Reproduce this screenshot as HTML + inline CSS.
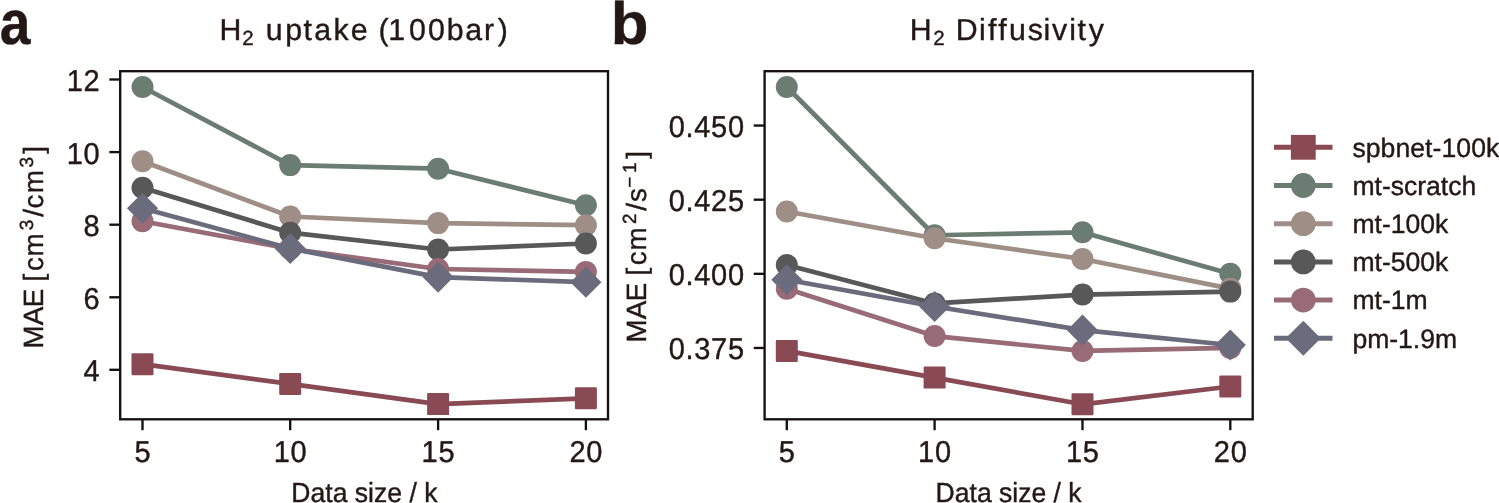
<!DOCTYPE html>
<html lang="en">
<head>
<meta charset="utf-8">
<title>MAE vs data size</title>
<style>
html,body{margin:0;padding:0;background:#fff;}
body{width:1499px;height:503px;overflow:hidden;font-family:"Liberation Sans", sans-serif;}
svg{display:block;}
</style>
</head>
<body>
<svg width="1499" height="503" viewBox="0 0 1499 503" font-family='"Liberation Sans", sans-serif' fill="#231815" text-rendering="geometricPrecision">
<style>text{stroke:#231815;stroke-width:0.4px;stroke-linejoin:round}</style>
<rect width="1499" height="503" fill="#ffffff"/>
<polyline points="142.5,364.2 290.2,383.9 438.1,404.1 585.9,398.3" fill="none" stroke="#8a4a54" stroke-width="4.7" stroke-linejoin="round"/>
<rect x="131.5" y="353.2" width="22" height="22" rx="1.2" fill="#8a4a54"/>
<rect x="279.2" y="372.9" width="22" height="22" rx="1.2" fill="#8a4a54"/>
<rect x="427.1" y="393.1" width="22" height="22" rx="1.2" fill="#8a4a54"/>
<rect x="574.9" y="387.3" width="22" height="22" rx="1.2" fill="#8a4a54"/>
<polyline points="142.5,87 290.2,165.1 438.1,168.7 585.9,205.3" fill="none" stroke="#6b7d73" stroke-width="4.7" stroke-linejoin="round"/>
<circle cx="142.5" cy="87" r="11" fill="#6b7d73"/>
<circle cx="290.2" cy="165.1" r="11" fill="#6b7d73"/>
<circle cx="438.1" cy="168.7" r="11" fill="#6b7d73"/>
<circle cx="585.9" cy="205.3" r="11" fill="#6b7d73"/>
<polyline points="142.5,161.2 290.2,216.5 438.1,223.1 585.9,225.2" fill="none" stroke="#9e8e86" stroke-width="4.7" stroke-linejoin="round"/>
<circle cx="142.5" cy="161.2" r="11" fill="#9e8e86"/>
<circle cx="290.2" cy="216.5" r="11" fill="#9e8e86"/>
<circle cx="438.1" cy="223.1" r="11" fill="#9e8e86"/>
<circle cx="585.9" cy="225.2" r="11" fill="#9e8e86"/>
<polyline points="142.5,187.7 290.2,232.7 438.1,249.5 585.9,243.5" fill="none" stroke="#585858" stroke-width="4.7" stroke-linejoin="round"/>
<circle cx="142.5" cy="187.7" r="11" fill="#585858"/>
<circle cx="290.2" cy="232.7" r="11" fill="#585858"/>
<circle cx="438.1" cy="249.5" r="11" fill="#585858"/>
<circle cx="585.9" cy="243.5" r="11" fill="#585858"/>
<polyline points="142.5,221.2 290.2,248.8 438.1,269 585.9,271.9" fill="none" stroke="#986b76" stroke-width="4.7" stroke-linejoin="round"/>
<circle cx="142.5" cy="221.2" r="11" fill="#986b76"/>
<circle cx="290.2" cy="248.8" r="11" fill="#986b76"/>
<circle cx="438.1" cy="269" r="11" fill="#986b76"/>
<circle cx="585.9" cy="271.9" r="11" fill="#986b76"/>
<polyline points="142.5,208.2 290.2,248.5 438.1,277.1 585.9,282.2" fill="none" stroke="#6a6c7d" stroke-width="4.7" stroke-linejoin="round"/>
<path d="M142.5 192.64L158.06 208.2L142.5 223.76L126.94 208.2Z" fill="#6a6c7d"/>
<path d="M290.2 232.94L305.76 248.5L290.2 264.06L274.64 248.5Z" fill="#6a6c7d"/>
<path d="M438.1 261.54L453.66 277.1L438.1 292.66L422.54 277.1Z" fill="#6a6c7d"/>
<path d="M585.9 266.64L601.46 282.2L585.9 297.76L570.34 282.2Z" fill="#6a6c7d"/>
<rect x="120.2" y="71.2" width="487.8" height="348.1" fill="none" stroke="#151111" stroke-width="2.35"/>
<line x1="142.5" y1="419.3" x2="142.5" y2="430.18" stroke="#151111" stroke-width="2.35"/>
<text transform="translate(142.85 462) scale(1 1.04)" font-size="29.0" text-anchor="middle" letter-spacing="0.7">5</text>
<line x1="290.2" y1="419.3" x2="290.2" y2="430.18" stroke="#151111" stroke-width="2.35"/>
<text transform="translate(290.55 462) scale(1 1.04)" font-size="29.0" text-anchor="middle" letter-spacing="0.7">10</text>
<line x1="438.1" y1="419.3" x2="438.1" y2="430.18" stroke="#151111" stroke-width="2.35"/>
<text transform="translate(438.45 462) scale(1 1.04)" font-size="29.0" text-anchor="middle" letter-spacing="0.7">15</text>
<line x1="585.9" y1="419.3" x2="585.9" y2="430.18" stroke="#151111" stroke-width="2.35"/>
<text transform="translate(586.25 462) scale(1 1.04)" font-size="29.0" text-anchor="middle" letter-spacing="0.7">20</text>
<line x1="109.33" y1="79.5" x2="120.2" y2="79.5" stroke="#151111" stroke-width="2.35"/>
<text transform="translate(100.33 91) scale(1 1.04)" font-size="29.0" text-anchor="end" letter-spacing="0.7">12</text>
<line x1="109.33" y1="152.1" x2="120.2" y2="152.1" stroke="#151111" stroke-width="2.35"/>
<text transform="translate(100.33 164) scale(1 1.04)" font-size="29.0" text-anchor="end" letter-spacing="0.7">10</text>
<line x1="109.33" y1="224.7" x2="120.2" y2="224.7" stroke="#151111" stroke-width="2.35"/>
<text transform="translate(100.33 236) scale(1 1.04)" font-size="29.0" text-anchor="end" letter-spacing="0.7">8</text>
<line x1="109.33" y1="297.3" x2="120.2" y2="297.3" stroke="#151111" stroke-width="2.35"/>
<text transform="translate(100.33 309) scale(1 1.04)" font-size="29.0" text-anchor="end" letter-spacing="0.7">6</text>
<line x1="109.33" y1="369.8" x2="120.2" y2="369.8" stroke="#151111" stroke-width="2.35"/>
<text transform="translate(100.33 381) scale(1 1.04)" font-size="29.0" text-anchor="end" letter-spacing="0.7">4</text>
<text transform="translate(364.4 502) scale(1 1.04)" font-size="26.55" text-anchor="middle">Data size / k</text>
<polyline points="786.8,350.92 934.6,377.61 1082.5,404.3 1230.3,386.51" fill="none" stroke="#8a4a54" stroke-width="4.7" stroke-linejoin="round"/>
<rect x="775.8" y="339.92" width="22" height="22" rx="1.2" fill="#8a4a54"/>
<rect x="923.6" y="366.61" width="22" height="22" rx="1.2" fill="#8a4a54"/>
<rect x="1071.5" y="393.3" width="22" height="22" rx="1.2" fill="#8a4a54"/>
<rect x="1219.3" y="375.51" width="22" height="22" rx="1.2" fill="#8a4a54"/>
<polyline points="786.8,87 934.6,235.27 1082.5,232.3 1230.3,273.82" fill="none" stroke="#6b7d73" stroke-width="4.7" stroke-linejoin="round"/>
<circle cx="786.8" cy="87" r="11" fill="#6b7d73"/>
<circle cx="934.6" cy="235.27" r="11" fill="#6b7d73"/>
<circle cx="1082.5" cy="232.3" r="11" fill="#6b7d73"/>
<circle cx="1230.3" cy="273.82" r="11" fill="#6b7d73"/>
<polyline points="786.8,211.55 934.6,238.24 1082.5,258.99 1230.3,288.65" fill="none" stroke="#9e8e86" stroke-width="4.7" stroke-linejoin="round"/>
<circle cx="786.8" cy="211.55" r="11" fill="#9e8e86"/>
<circle cx="934.6" cy="238.24" r="11" fill="#9e8e86"/>
<circle cx="1082.5" cy="258.99" r="11" fill="#9e8e86"/>
<circle cx="1230.3" cy="288.65" r="11" fill="#9e8e86"/>
<polyline points="786.8,264.92 934.6,303.47 1082.5,294.58 1230.3,291.61" fill="none" stroke="#585858" stroke-width="4.7" stroke-linejoin="round"/>
<circle cx="786.8" cy="264.92" r="11" fill="#585858"/>
<circle cx="934.6" cy="303.47" r="11" fill="#585858"/>
<circle cx="1082.5" cy="294.58" r="11" fill="#585858"/>
<circle cx="1230.3" cy="291.61" r="11" fill="#585858"/>
<polyline points="786.8,288.65 934.6,336.09 1082.5,350.92 1230.3,347.96" fill="none" stroke="#986b76" stroke-width="4.7" stroke-linejoin="round"/>
<circle cx="786.8" cy="288.65" r="11" fill="#986b76"/>
<circle cx="934.6" cy="336.09" r="11" fill="#986b76"/>
<circle cx="1082.5" cy="350.92" r="11" fill="#986b76"/>
<circle cx="1230.3" cy="347.96" r="11" fill="#986b76"/>
<polyline points="786.8,279.75 934.6,306.44 1082.5,330.16 1230.3,344.99" fill="none" stroke="#6a6c7d" stroke-width="4.7" stroke-linejoin="round"/>
<path d="M786.8 264.19L802.36 279.75L786.8 295.31L771.24 279.75Z" fill="#6a6c7d"/>
<path d="M934.6 290.88L950.16 306.44L934.6 322L919.04 306.44Z" fill="#6a6c7d"/>
<path d="M1082.5 314.61L1098.06 330.16L1082.5 345.72L1066.94 330.16Z" fill="#6a6c7d"/>
<path d="M1230.3 329.43L1245.86 344.99L1230.3 360.55L1214.74 344.99Z" fill="#6a6c7d"/>
<rect x="764.6" y="71.2" width="488.1" height="348.1" fill="none" stroke="#151111" stroke-width="2.35"/>
<line x1="786.8" y1="419.3" x2="786.8" y2="430.18" stroke="#151111" stroke-width="2.35"/>
<text transform="translate(787.15 462) scale(1 1.04)" font-size="29.0" text-anchor="middle" letter-spacing="0.7">5</text>
<line x1="934.6" y1="419.3" x2="934.6" y2="430.18" stroke="#151111" stroke-width="2.35"/>
<text transform="translate(934.95 462) scale(1 1.04)" font-size="29.0" text-anchor="middle" letter-spacing="0.7">10</text>
<line x1="1082.5" y1="419.3" x2="1082.5" y2="430.18" stroke="#151111" stroke-width="2.35"/>
<text transform="translate(1082.85 462) scale(1 1.04)" font-size="29.0" text-anchor="middle" letter-spacing="0.7">15</text>
<line x1="1230.3" y1="419.3" x2="1230.3" y2="430.18" stroke="#151111" stroke-width="2.35"/>
<text transform="translate(1230.65 462) scale(1 1.04)" font-size="29.0" text-anchor="middle" letter-spacing="0.7">20</text>
<line x1="753.73" y1="125.55" x2="764.6" y2="125.55" stroke="#151111" stroke-width="2.35"/>
<text transform="translate(744.73 137) scale(1 1.04)" font-size="29.0" text-anchor="end" letter-spacing="0.7">0.450</text>
<line x1="753.73" y1="199.69" x2="764.6" y2="199.69" stroke="#151111" stroke-width="2.35"/>
<text transform="translate(744.73 211) scale(1 1.04)" font-size="29.0" text-anchor="end" letter-spacing="0.7">0.425</text>
<line x1="753.73" y1="273.82" x2="764.6" y2="273.82" stroke="#151111" stroke-width="2.35"/>
<text transform="translate(744.73 285) scale(1 1.04)" font-size="29.0" text-anchor="end" letter-spacing="0.7">0.400</text>
<line x1="753.73" y1="347.96" x2="764.6" y2="347.96" stroke="#151111" stroke-width="2.35"/>
<text transform="translate(744.73 359) scale(1 1.04)" font-size="29.0" text-anchor="end" letter-spacing="0.7">0.375</text>
<text transform="translate(1008.6 502) scale(1 1.04)" font-size="26.55" text-anchor="middle">Data size / k</text>
<text transform="translate(-0.3 44) scale(0.92 1.035)" font-size="60" font-weight="bold">a</text>
<text transform="translate(610.7 44) scale(1.03 0.995)" font-size="60" font-weight="bold">b</text>
<text font-size="30.3" xml:space="preserve"><tspan x="219.6" y="40">H</tspan><tspan x="242.2" y="45" font-size="20.5">2</tspan><tspan x="253.6 265.85 285.18 303.52 314.28 333.53 350.7 367.56 378.55 388.36 409.12 427.92 446.78 465.18 484 497.81" y="40"> uptake (100bar)</tspan></text>
<text font-size="30.3" xml:space="preserve"><tspan x="909.85" y="39.8">H</tspan><tspan x="933.35" y="44.8" font-size="20.5">2</tspan><tspan x="944.75 955.79 979.04 987.9 998.2 1008.95 1027.75 1043.44 1052.12 1069.24 1077.42 1088.67" y="39.8"> Diffusivity</tspan></text>
<text font-size="27.8" transform="rotate(-90)" xml:space="preserve"><tspan x="-348.58 -325.37 -307.31 -288.77 -281.39 -271.12 -256.39" y="43">MAE [cm</tspan><tspan x="-230.13" y="33.2" font-size="19.0">3</tspan><tspan x="-216.71 -208.47 -193.29" y="43">/cm</tspan><tspan x="-167.48" y="33.2" font-size="19.0">3</tspan><tspan x="-153.78" y="43">]</tspan></text>
<text font-size="27.8" transform="rotate(-90)" xml:space="preserve"><tspan x="-342.48 -319.22 -301.31 -282.77 -275.39 -265.32 -250.44" y="646">MAE [cm</tspan><tspan x="-224.03" y="636" font-size="19.0">2</tspan><tspan x="-210.76 -201.93" y="646">/s</tspan><tspan x="-187.7 -173.04" y="636" font-size="19.0">−1</tspan><tspan x="-158.68" y="646">]</tspan></text>
<line x1="1274" y1="147.3" x2="1332.5" y2="147.3" stroke="#8a4a54" stroke-width="5"/>
<rect x="1290.9" y="134.9" width="24.8" height="24.8" rx="0" fill="#8a4a54"/>
<text x="1352.4" y="156.6" font-size="26.55" letter-spacing="0.08">spbnet-100k</text>
<line x1="1274" y1="185.5" x2="1332.5" y2="185.5" stroke="#6b7d73" stroke-width="5"/>
<circle cx="1303.3" cy="185.5" r="12.4" fill="#6b7d73"/>
<text x="1352.4" y="194.8" font-size="26.55">mt-scratch</text>
<line x1="1274" y1="223.7" x2="1332.5" y2="223.7" stroke="#9e8e86" stroke-width="5"/>
<circle cx="1303.3" cy="223.7" r="12.4" fill="#9e8e86"/>
<text x="1352.4" y="233" font-size="26.55">mt-100k</text>
<line x1="1274" y1="261.9" x2="1332.5" y2="261.9" stroke="#585858" stroke-width="5"/>
<circle cx="1303.3" cy="261.9" r="12.4" fill="#585858"/>
<text x="1352.4" y="271.2" font-size="26.55">mt-500k</text>
<line x1="1274" y1="300.1" x2="1332.5" y2="300.1" stroke="#986b76" stroke-width="5"/>
<circle cx="1303.3" cy="300.1" r="12.4" fill="#986b76"/>
<text x="1352.4" y="309.4" font-size="26.55">mt-1m</text>
<line x1="1274" y1="338.3" x2="1332.5" y2="338.3" stroke="#6a6c7d" stroke-width="5"/>
<path d="M1303.3 320.76L1320.84 338.3L1303.3 355.84L1285.76 338.3Z" fill="#6a6c7d"/>
<text x="1352.4" y="347.6" font-size="26.55">pm-1.9m</text>
</svg>
</body>
</html>
